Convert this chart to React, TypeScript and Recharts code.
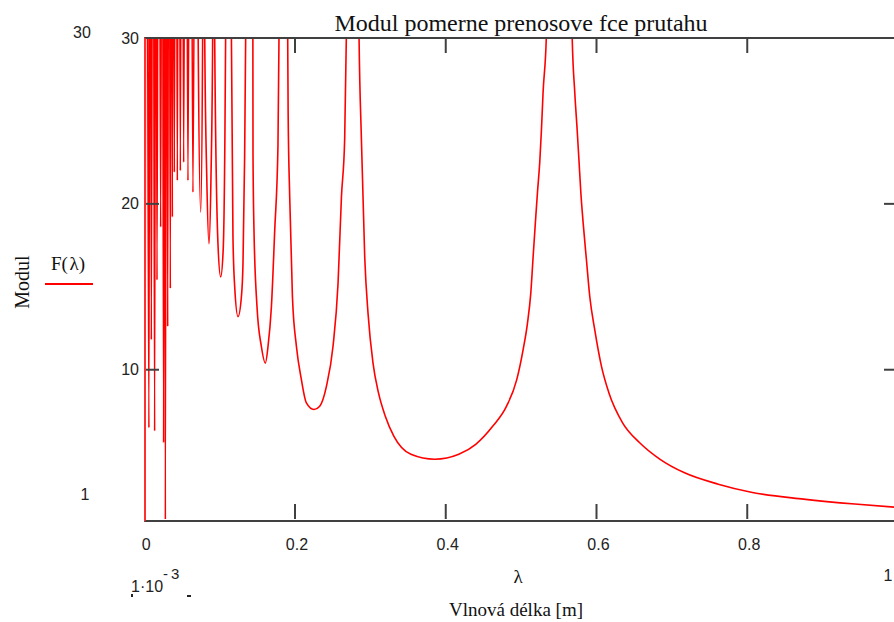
import { LineChart, Line, XAxis, YAxis, ReferenceLine } from "recharts"

// short wavelengths: dense, aliased resonances
const shortLambda = [
  0.001, 0.0028, 0.0062, 0.0078, 0.0094, 0.0115, 0.0138, 0.0153, 0.0169, 0.0193,
  0.0218, 0.0238, 0.0257, 0.0268, 0.028, 0.0296, 0.0311, 0.0328, 0.0346, 0.036,
  0.0373, 0.0386, 0.0399, 0.042, 0.0439, 0.0458, 0.0479, 0.05, 0.0523, 0.055,
  0.058, 0.0611, 0.0646, 0.0688,
]
const shortModul = [
  0.8, 60, 6.5, 60, 11.8, 60, 6.3, 60, 15.4, 60,
  18.6, 60, 5.6, 60, 0.8, 60, 12.6, 60, 14.9, 60,
  19.2, 60, 21.9, 60, 21.4, 60, 22.0, 60, 22.5, 60,
  21.4, 60, 20.7, 60,
]

// middle: separated peaks at 0.11, 0.14, 0.18, 0.28
const midLambda = [
  0.0715, 0.0749, 0.0775, 0.0786, 0.0802, 0.083, 0.0859, 0.0885, 0.0908, 0.0917,
  0.0934, 0.0978, 0.1014, 0.1047, 0.107, 0.108, 0.1119, 0.1156, 0.1177, 0.12,
  0.1244, 0.1289, 0.131, 0.1332, 0.1346, 0.1395, 0.1441, 0.1443, 0.1456, 0.1496,
  0.1554, 0.1607, 0.1642, 0.1687, 0.1731, 0.1774, 0.1788, 0.1847, 0.1903, 0.1909,
  0.193, 0.1966, 0.2019, 0.2085, 0.2151, 0.2252, 0.2328, 0.2417, 0.2504, 0.2571,
  0.2616, 0.2659, 0.2682, 0.2766,
]
const midModul = [
  30.3, 19.5, 30.3, 60, 30.3, 21.5, 17.6, 21.5, 30.3, 60,
  30.3, 17.6, 15.6, 17.2, 24.0, 30.3, 70, 30.3, 18.0, 15.0,
  13.2, 14.4, 16.4, 22.9, 30.3, 80, 30.3, 22.9, 18.4, 13.8,
  11.4, 10.4, 11.4, 13.8, 18.4, 23.5, 30.3, 90, 30.3, 25.5,
  20.4, 14.4, 11.4, 9.4, 8.0, 7.6, 7.8, 9.0, 11.4, 15.2,
  20.4, 23.9, 30.3, 100,
]

// long wavelengths: main resonance at 0.55 and the tail
const longLambda = [
  0.2849, 0.2881, 0.2925, 0.2969, 0.3035, 0.3108, 0.3198, 0.3311, 0.3538, 0.3855,
  0.4173, 0.4398, 0.4625, 0.4807, 0.4942, 0.5026, 0.5084, 0.5128, 0.5159, 0.5194,
  0.5217, 0.5247, 0.527, 0.5291, 0.5336, 0.5506, 0.5676, 0.5712, 0.5743, 0.5769,
  0.5792, 0.5822, 0.5867, 0.5911, 0.5977, 0.6066, 0.6165, 0.6346, 0.6573, 0.6844,
  0.7161, 0.7615, 0.8068, 0.8747, 0.9427, 1.0,
]
const longModul = [
  30.3, 23.9, 16.8, 13.4, 10.4, 8.6, 7.2, 6.0, 4.9, 4.6,
  4.9, 5.5, 6.6, 7.8, 9.4, 11.2, 12.8, 14.6, 16.8, 19.2,
  20.7, 22.5, 24.5, 26.7, 30.3, 150, 30.3, 26.7, 24.5, 22.5,
  20.7, 18.9, 16.6, 14.4, 12.4, 10.2, 8.6, 6.8, 5.6, 4.6,
  3.8, 3.1, 2.6, 2.2, 1.9, 1.7,
]

const xTicks = [0, 0.2, 0.4, 0.6, 0.8]
const yTicks = [10, 20, 30]
const xDomain = [0.001, 1]
const yDomain = [1, 30]

const lambda = [...shortLambda, ...midLambda, ...longLambda]
const modul = [...shortModul, ...midModul, ...longModul]
const data = lambda.map((l, i) => ({ lambda: l, modul: modul[i] }))

const W = 910
const H = 622
const LEFT = 145
const TOP = 38
const RIGHT = 898
const BOTTOM = 519
const TICK = 15
// inner tick length in data units of the y axis
const tickUnits = (TICK * (yDomain[1] - yDomain[0])) / (BOTTOM - TOP)
const frame = "#404040"
const sans = '"Liberation Sans", Arial, sans-serif'
const serif = '"Liberation Serif", "Times New Roman", serif'

function XTick({ x, payload }: any) {
  return (
    <text x={x + 2} y={BOTTOM + 31} textAnchor="middle" fontFamily={sans} fontSize={16} fill="#222">
      {payload.value}
    </text>
  )
}

function YTick({ y, payload }: any) {
  const v = payload.value
  return (
    <g>
      {v < 30 && <line x1={LEFT} x2={LEFT + 14} y1={y} y2={y} stroke={frame} strokeWidth={2} />}
      {v < 30 && <line x1={RIGHT - 14} x2={RIGHT} y1={y} y2={y} stroke={frame} strokeWidth={2} />}
      <text x={139} y={y} dy="0.35em" textAnchor="end" fontFamily={sans} fontSize={16} fill="#222">
        {v}
      </text>
    </g>
  )
}

const abs = (left: number, top: number, extra: any = {}) => ({
  position: "absolute" as const,
  left,
  top,
  transform: "translate(-50%, -50%)",
  whiteSpace: "nowrap" as const,
  color: "#111",
  lineHeight: 1,
  ...extra,
})

export default function App() {
  const inner = xTicks.filter((t) => t > 0)
  return (
    <div
      style={{
        position: "fixed",
        left: 0,
        top: 0,
        width: 894,
        height: 622,
        overflow: "hidden",
        background: "#fff",
      }}
    >
      <LineChart
        width={W}
        height={H}
        data={data}
        margin={{ top: TOP, right: W - RIGHT, bottom: H - BOTTOM - 1, left: LEFT - 1 }}
      >
        <XAxis
          dataKey="lambda"
          type="number"
          domain={xDomain}
          allowDataOverflow
          ticks={xTicks}
          interval={0}
          height={1}
          tickLine={false}
          axisLine={false}
          tickSize={0}
          tick={XTick}
        />
        <YAxis
          type="number"
          domain={yDomain}
          allowDataOverflow
          ticks={yTicks}
          interval={0}
          width={1}
          tickLine={false}
          axisLine={false}
          tickSize={0}
          tick={YTick}
        />
        {inner.map((t) => (
          <ReferenceLine
            key={"b" + t}
            segment={[{ x: t, y: yDomain[0] }, { x: t, y: yDomain[0] + tickUnits }]}
            stroke={frame}
            strokeWidth={2}
          />
        ))}
        {inner.map((t) => (
          <ReferenceLine
            key={"t" + t}
            segment={[{ x: t, y: yDomain[1] }, { x: t, y: yDomain[1] - tickUnits }]}
            stroke={frame}
            strokeWidth={2}
          />
        ))}
        <Line
          dataKey="modul"
          type="monotone"
          stroke="#ff0000"
          strokeWidth={1.6}
          dot={false}
          isAnimationActive={false}
        />
      </LineChart>

      {/* plot frame */}
      <div
        style={{
          position: "absolute",
          left: LEFT - 1,
          top: TOP - 1,
          width: RIGHT - LEFT,
          height: BOTTOM - TOP,
          border: `2px solid ${frame}`,
          borderLeftColor: "#ff3030",
          pointerEvents: "none",
        }}
      />

      <div style={abs(521, 23, { fontFamily: serif, fontSize: 24 })}>Modul pomerne prenosove fce prutahu</div>
      <div style={abs(22, 282, { fontFamily: serif, fontSize: 20, transform: "translate(-50%, -50%) rotate(-90deg)" })}>
        Modul
      </div>
      <div style={abs(68, 263, { fontFamily: serif, fontSize: 19 })}>F(&#8202;λ)</div>
      <div style={{ position: "absolute", left: 45, top: 283, width: 48, height: 2, background: "#ff0000" }} />
      <div style={abs(82, 33, { fontFamily: sans, fontSize: 16, color: "#222" })}>30</div>
      <div style={abs(85, 495, { fontFamily: sans, fontSize: 16, color: "#222" })}>1</div>
      <div style={abs(518, 576, { fontFamily: serif, fontSize: 19 })}>λ</div>
      <div style={abs(516, 609, { fontFamily: serif, fontSize: 19 })}>Vlnová délka [m]</div>
      <div style={{ position: "absolute", left: 131, top: 566, fontFamily: sans, fontSize: 16, color: "#222", whiteSpace: "nowrap" }}>
        <span style={{ position: "relative", top: 12 }}>1·10</span>
        <span style={{ position: "relative", top: -1, fontSize: 15 }}>-&#8201;3</span>
      </div>
      <div style={{ position: "absolute", left: 131, top: 594, width: 2, height: 3, background: "#222" }} />
      <div style={{ position: "absolute", left: 187, top: 595, width: 4, height: 2, background: "#222" }} />
      <div style={abs(888, 576, { fontFamily: sans, fontSize: 16, color: "#222" })}>1</div>
    </div>
  )
}
